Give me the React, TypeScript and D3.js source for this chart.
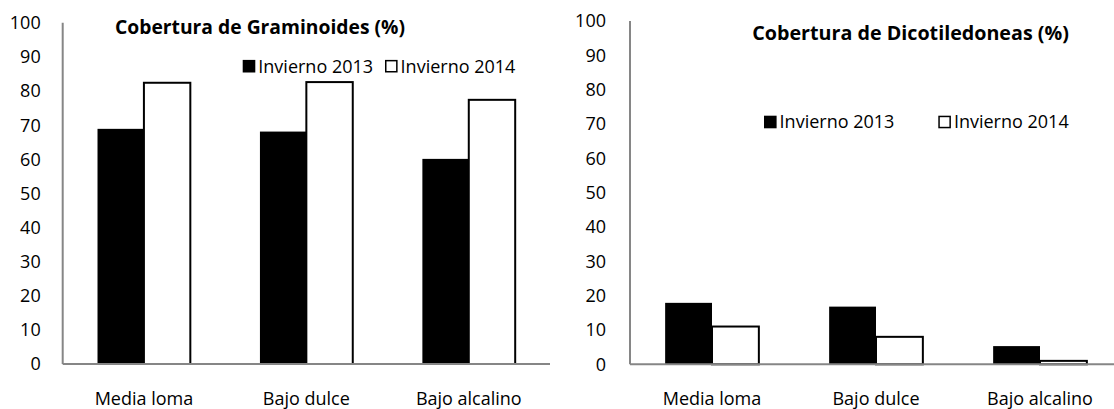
import React from "react";
import * as d3 from "d3";

const categories = ["Media loma", "Bajo dulce", "Bajo alcalino"];
const seriesNames = ["Invierno 2013", "Invierno 2014"];
const graminoides2013 = [68.9, 68.1, 60.1];
const graminoides2014 = [82.4, 82.6, 77.4];
const dicotiledoneas2013 = [17.9, 16.8, 5.3];
const dicotiledoneas2014 = [11.0, 8.0, 1.0];
const yTicks = [0, 10, 20, 30, 40, 50, 60, 70, 80, 90, 100];

const FONT = "'Open Sans', sans-serif";
const AXIS = "#868686";

type PanelProps = {
  title: string;
  titleSize: number;
  s2013: number[];
  s2014: number[];
  x0: number;
  x1: number;
  yZero: number;
  yTop: number;
  tickRight: number;
  titleX: number;
  titleY: number;
  legendX: number;
  legendY: number;
  legendGap: number;
};

function Panel(p: PanelProps) {
  const x = d3.scaleBand<string>().domain(categories).range([p.x0, p.x1]).padding(0);
  const y = d3.scaleLinear().domain([0, 100]).range([p.yZero, p.yTop]);
  const bw = x.bandwidth() / 3.5;
  const sq = 12.6;
  return (
    <g>
      {yTicks.map((t) => (
        <text
          key={t}
          x={p.tickRight}
          y={y(t)}
          dy="0.36em"
          textAnchor="end"
          fontFamily={FONT}
          fontSize={18}
          fill="#000"
        >
          {t}
        </text>
      ))}
      {categories.map((c, i) => {
        const cx = (x(c) as number) + x.bandwidth() / 2;
        return (
          <g key={c}>
            <rect x={cx - bw} y={y(p.s2013[i])} width={bw} height={y(0) - y(p.s2013[i])} fill="#000" />
            <rect
              x={cx}
              y={y(p.s2014[i])}
              width={bw}
              height={y(0) - y(p.s2014[i])}
              fill="#fff"
              stroke="#000"
              strokeWidth={2}
            />
            <text x={cx} y={404.5} textAnchor="middle" fontFamily={FONT} fontSize={18} fill="#000">
              {c}
            </text>
          </g>
        );
      })}
      <line x1={p.x0} x2={p.x0} y1={p.yTop} y2={p.yZero} stroke={AXIS} strokeWidth={2} />
      <line x1={p.x0} x2={p.x1} y1={p.yZero} y2={p.yZero} stroke={AXIS} strokeWidth={2} />
      <text x={p.titleX} y={p.titleY} fontFamily={FONT} fontWeight="bold" fontSize={p.titleSize} fill="#000">
        {p.title}
      </text>
      <g>
        <rect x={p.legendX} y={p.legendY - sq} width={sq} height={sq} fill="#000" />
        <text x={p.legendX + sq + 3} y={p.legendY} fontFamily={FONT} fontSize={18} fill="#000">
          {seriesNames[0]}
        </text>
        <rect
          x={p.legendX + p.legendGap + 0.75}
          y={p.legendY - sq + 0.75}
          width={sq - 1.5}
          height={sq - 1.5}
          fill="#fff"
          stroke="#000"
          strokeWidth={1.5}
        />
        <text x={p.legendX + p.legendGap + sq + 3} y={p.legendY} fontFamily={FONT} fontSize={18} fill="#000">
          {seriesNames[1]}
        </text>
      </g>
    </g>
  );
}

export default function App() {
  return (
    <svg
      width={1114}
      height={409}
      style={{ position: "absolute", left: 0, top: 0, background: "#fff" }}
    >
      <rect width={1114} height={409} fill="#fff" />
      <Panel
        title="Cobertura de Graminoides (%)"
        titleSize={19.3}
        s2013={graminoides2013}
        s2014={graminoides2014}
        x0={62.7}
        x1={550}
        yZero={364}
        yTop={22.7}
        tickRight={40.7}
        titleX={115}
        titleY={33.5}
        legendX={242.7}
        legendY={72.5}
        legendGap={142.3}
      />
      <Panel
        title="Cobertura de Dicotiledoneas (%)"
        titleSize={19.7}
        s2013={dicotiledoneas2013}
        s2014={dicotiledoneas2014}
        x0={630}
        x1={1122}
        yZero={364.3}
        yTop={21}
        tickRight={606}
        titleX={752.3}
        titleY={40}
        legendX={764}
        legendY={128.3}
        legendGap={174.3}
      />
    </svg>
  );
}
